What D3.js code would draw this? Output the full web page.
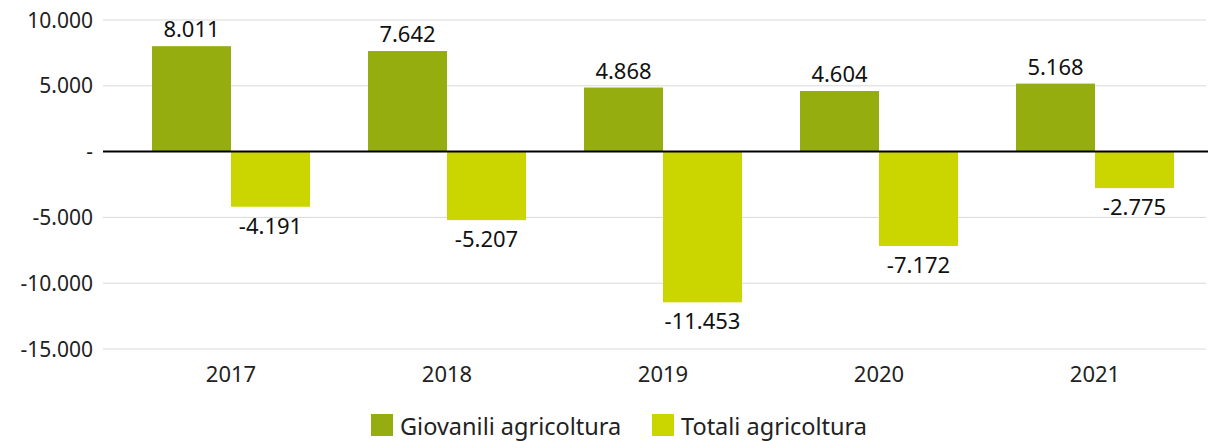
<!DOCTYPE html>
<html>
<head>
<meta charset="utf-8">
<script src="https://cdn.jsdelivr.net/npm/d3@7"></script>
<style>
  body { margin: 0; background: #fff; }
  svg { display: block; font-family: "Noto Sans", sans-serif; }
</style>
</head>
<body>
<svg id="chart" width="1208" height="441"></svg>
<script>
const years = ['2017', '2018', '2019', '2020', '2021'];
const giovanili = [8011, 7642, 4868, 4604, 5168];
const totali = [-4191, -5207, -11453, -7172, -2775];
const seriesNames = ['Giovanili agricoltura', 'Totali agricoltura'];
const seriesColors = ['#96ad10', '#cbd600'];
const yTicks = [10000, 5000, 0, -5000, -10000, -15000];

const svg = d3.select('#chart');
const plotLeft = 103, plotRight = 1206;

// Italian style thousands separator, hyphen for minus, dash for zero
const fmt = v => v === 0 ? '-' : (v < 0 ? '-' : '') + d3.format(',')(Math.abs(v)).replace(/,/g, '.');

const x = d3.scaleBand().domain(years).range([123, 1203]);
const inner = d3.scaleBand().domain([0, 1]).range([0, x.bandwidth()]).paddingOuter(0.367);

const y = d3.scaleLinear().domain([-15000, 10000]).range([349, 20]);

// gridlines
svg.append('g')
  .selectAll('line')
  .data(yTicks.filter(d => d !== 0))
  .enter()
  .append('line')
  .attr('x1', plotLeft)
  .attr('x2', plotRight)
  .attr('y1', d => y(d))
  .attr('y2', d => y(d))
  .attr('stroke', '#d9d9d9')
  .attr('stroke-width', 1);

// y tick labels
svg.append('g')
  .selectAll('text')
  .data(yTicks)
  .enter()
  .append('text')
  .attr('x', 93)
  .attr('y', d => y(d))
  .attr('dy', '0.36em')
  .attr('text-anchor', 'end')
  .attr('font-size', 21)
  .attr('fill', '#222')
  .text(fmt);

const series = [giovanili, totali];

series.forEach((vals, si) => {
  const g = svg.append('g');
  g.selectAll('rect')
    .data(vals)
    .enter()
    .append('rect')
    .attr('x', (d, i) => x(years[i]) + inner(si))
    .attr('width', inner.bandwidth())
    .attr('y', d => d < 0 ? y(0) : y(d))
    .attr('height', d => Math.abs(y(d) - y(0)))
    .attr('fill', seriesColors[si]);

  g.selectAll('text')
    .data(vals)
    .enter()
    .append('text')
    .attr('x', (d, i) => x(years[i]) + inner(si) + inner.bandwidth() / 2)
    .attr('y', d => d < 0 ? y(d) + 27 : y(d) - 9)
    .attr('text-anchor', 'middle')
    .attr('font-size', 22)
    .attr('fill', '#111')
    .text(fmt);
});

// zero line
svg.append('line')
  .attr('x1', plotLeft)
  .attr('x2', 1208)
  .attr('y1', y(0))
  .attr('y2', y(0))
  .attr('stroke', '#000')
  .attr('stroke-width', 2);

// x labels
svg.append('g')
  .selectAll('text')
  .data(years)
  .enter()
  .append('text')
  .attr('x', d => x(d) + x.bandwidth() / 2)
  .attr('y', 382)
  .attr('text-anchor', 'middle')
  .attr('font-size', 22)
  .attr('fill', '#222')
  .text(d => d);

// legend
const legendX = [371, 652];
const legend = svg.append('g')
  .selectAll('g')
  .data(seriesNames)
  .enter()
  .append('g')
  .attr('transform', (d, i) => `translate(${legendX[i]},414)`);

legend.append('rect')
  .attr('width', 22)
  .attr('height', 22)
  .attr('fill', (d, i) => seriesColors[i]);

legend.append('text')
  .attr('x', 29)
  .attr('y', 21)
  .attr('font-size', 23.5)
  .attr('fill', '#222')
  .text(d => d);
</script>
</body>
</html>
